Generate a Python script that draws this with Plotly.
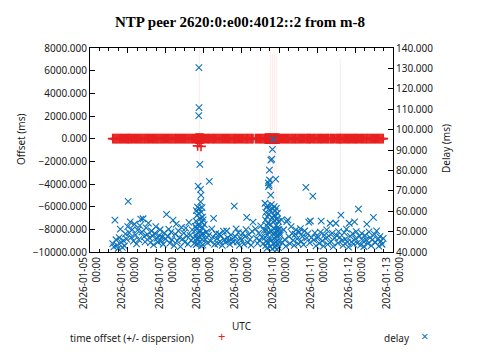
import pandas as pd
import plotly.graph_objects as go

TITLE = "NTP peer 2620:0:e00:4012::2 from m-8"
T0 = pd.Timestamp("2026-01-05 00:00")
RED = "rgb(232,32,32)"
BLUE = "#0b72bb"

# ---- samples: hours after 2026-01-05 00:00 UTC, delay (ms), offset (ms) ----
hours_d0 = [14.4, 15.1, 15.8, 16.5, 17.1, 17.8, 18.5, 19.2, 19.8, 20.5, 21.2, 21.9, 22.5, 23.2, 23.9, 24.2]
delay_d0 = [44.1, 42.5, 55.6, 46.0, 43.2, 41.8, 47.0, 51.2, 44.7, 42.3, 45.6, 43.0, 48.9, 46.3, 52.4, 64.8]
offs_d0 = [2, -1, 3, 0, 1, -2, 4, 2, -1, 0, 3, 1, -3, 2, 0, 5]

hours_d1 = [24.8, 25.5, 26.1, 26.8, 27.5, 28.2, 28.9, 29.5, 30.2, 30.9, 31.6, 32.2, 32.9, 33.6, 34.3, 34.9, 35.6, 36.3,
            37.0, 37.6, 38.3, 39.0, 39.7, 40.3, 41.0, 41.7, 42.4, 43.0, 43.7, 44.4, 45.1, 45.7, 46.4, 47.1, 47.8]
delay_d1 = [49.5, 54.8, 47.2, 51.0, 45.3, 53.6, 48.4, 44.0, 50.7, 46.1, 52.9, 56.1, 49.8, 56.3, 47.5, 45.0, 51.8, 48.6,
            54.2, 46.9, 44.6, 50.3, 47.8, 43.5, 49.1, 52.4, 46.7, 44.9, 48.0, 50.9, 45.6, 47.3, 43.8, 49.4, 46.5]
offs_d1 = [1, -2, 3, 0, 2, -1, 4, 1, -3, 2, 0, 5, 1, -2, 3, 2, -1, 0, 4, 2, -3, 1, 0, 3, -2, 1, 2, -1, 0, 3, 1, -2, 2, 0, 1]

hours_d2 = [48.5, 49.2, 49.9, 50.6, 51.3, 51.9, 52.6, 53.3, 54.0, 54.6, 55.3, 56.0, 56.7, 57.3, 58.0, 58.7, 59.4, 60.0,
            60.7, 61.4, 62.1, 62.7, 63.4, 64.1, 64.8, 65.4, 66.1, 66.8]
delay_d2 = [58.4, 47.6, 51.2, 44.3, 49.7, 46.0, 55.6, 43.1, 48.8, 53.7, 45.5, 50.4, 47.0, 42.6, 52.1, 46.4, 49.3, 44.8,
            51.7, 47.9, 43.9, 54.5, 48.2, 45.7, 50.8, 46.9, 44.2, 52.6]
offs_d2 = [2, 0, -1, 3, 1, -2, 2, 4, 0, -1, 3, 1, 2, -3, 0, 2, 1, -1, 3, 0, 2, -2, 1, 4, 0, -1, 2, 1]

hours_s1 = [67.0, 67.15, 67.3, 67.4, 67.55, 67.7, 67.8, 67.95, 68.1, 68.2, 68.35, 68.5, 68.6, 68.75, 68.9, 69.0, 69.1,
            69.2, 69.3, 69.45, 69.6, 69.7, 69.85, 70.0, 70.1, 70.2, 70.35, 70.5, 70.6, 70.75, 70.9, 71.0, 71.15, 71.3,
            71.4, 71.55, 71.7, 71.85]
delay_s1 = [48.2, 55.1, 43.6, 60.3, 51.4, 46.8, 57.9, 44.1, 62.0, 49.6, 53.2, 72.3, 45.9, 58.8, 106.9, 130.4, 110.8,
            47.3, 61.2, 52.7, 83.0, 44.8, 56.4, 70.7, 64.6, 50.1, 67.9, 59.5, 42.9, 54.6, 48.7, 61.7, 46.2, 57.1,
            51.9, 43.4, 55.8, 49.0]
offs_s1 = [3, -5, 8, 2, -4, 6, 1, -7, 4, -640, 5, -3, 9, 2, -6, 12, -8, 3, 7, -2, 10, -4, 1, 6, -9, 2, -680, 4, -1, 3,
           -5, 2, 6, -3, 1, 4, -2, 0]

hours_d3 = [72.4, 73.1, 73.8, 74.5, 75.1, 75.6, 76.4, 77.2, 77.9, 78.3, 79.0, 79.7, 80.4, 81.1, 81.8, 82.4, 83.1, 83.8,
            84.5, 85.2, 85.9, 86.6, 87.2, 87.9, 88.6, 89.3, 90.0, 90.7, 91.4, 92.0, 92.6, 93.3, 94.0, 94.7, 95.4]
delay_d3 = [53.4, 46.2, 49.8, 44.5, 48.1, 74.6, 45.3, 51.3, 47.4, 56.5, 43.8, 49.0, 46.6, 44.1, 48.7, 45.2, 47.9, 43.3,
            50.2, 46.0, 44.7, 50.3, 47.1, 45.5, 43.7, 48.4, 46.3, 44.9, 62.5, 47.6, 51.3, 45.0, 49.5, 43.2, 46.8]
offs_d3 = [1, -2, 0, 3, 2, -1, 1, 4, -2, 0, 2, 1, -1, 3, 0, -2, 2, 1, 0, -1, 3, 2, -2, 1, 0, 4, -1, 2, 1, -3, 0, 2, 1, -1, 3]

hours_d4 = [96.1, 96.8, 97.5, 98.2, 98.9, 99.3, 100.0, 100.7, 101.4, 102.1, 102.7, 103.3, 104.8, 105.5, 106.2, 106.9,
            107.6, 108.2, 108.9, 109.6, 110.3]
delay_d4 = [45.8, 49.3, 43.9, 47.7, 51.0, 57.0, 44.6, 48.5, 46.2, 43.4, 50.1, 54.6, 51.3, 46.7, 44.2, 49.2, 45.6, 52.8,
            47.3, 44.0, 50.6]
offs_d4 = [2, 0, -1, 3, 1, -2, 2, 0, 1, -1, 3, 2, 0, -2, 1, 2, -1, 0, 3, 1, -2]

hours_s2 = [110.9, 111.0, 111.2, 111.3, 111.4, 111.6, 111.7, 111.8, 112.0, 112.1,
            112.3, 112.4, 112.5, 112.7, 112.8, 113.0, 113.1, 113.2, 113.4, 113.5,
            113.7, 113.8, 113.9, 114.1, 114.2, 114.4, 114.5, 114.6, 114.8, 114.9,
            115.1, 115.2, 115.3, 115.5, 115.6, 115.8, 115.9, 116.0, 116.2, 116.3,
            116.5, 116.6, 116.7, 116.9, 117.0, 117.2, 117.3, 117.4, 117.6, 117.7,
            117.9, 118.0, 118.1, 118.3, 118.4, 118.6, 118.7, 118.8, 119.0, 119.1,
            119.3, 119.4, 119.5, 119.7, 119.8, 120.0]
delay_s2 = [63.9, 47.2, 55.8, 43.1, 59.4, 50.6, 45.3, 61.8, 52.9, 41.8,
            57.3, 48.4, 62.7, 44.6, 54.1, 73.9, 72.0, 49.9, 58.6, 72.8,
            80.1, 75.3, 46.1, 60.5, 42.7, 53.5, 67.9, 85.0, 50.2, 63.2,
            45.8, 85.5, 56.7, 41.5, 90.3, 61.1, 48.9, 54.8, 95.3, 44.0,
            58.0, 51.4, 62.2, 46.7, 55.3, 42.4, 60.0, 49.3, 57.6, 75.7,
            44.9, 53.0, 61.4, 47.8, 41.2, 56.2, 50.7, 59.0, 43.6, 52.2,
            48.0, 55.0, 42.1, 51.0, 45.1, 49.6]
offs_s2 = [4, -3, 6, 1, -5, 2, 8, -2, 3, -6,
           5, 0, -4, 7, 2, -1, 9, -3, 4, 1,
           -7, 3, 6, -2, 0, 5, -4, 2, 8, -1,
           3, -5, 1, 6, -3, 2, 4, -6, 0, 7,
           -2, 3, 1, -4, 5, 2, -1, 6, -3, 0,
           4, -2, 3, 1, -5, 2, 0, 4, -1, 3,
           -2, 1, 5, -3, 2, 0]

hours_d5 = [120.6, 121.3, 122.0, 122.7, 123.3, 124.0, 124.7, 125.3, 126.0, 126.7,
            127.4, 128.1, 128.7, 129.4, 130.1, 130.5, 131.2, 131.9, 132.6, 133.3,
            133.9, 134.6, 135.3, 136.0, 136.8, 137.4, 138.0, 138.6, 139.2, 139.6,
            140.3, 141.2, 141.8, 142.5, 143.2, 143.9]
delay_d5 = [48.3, 55.7, 44.6, 50.9, 46.1, 42.8, 54.9, 55.7, 47.5, 44.1,
            52.4, 49.0, 45.8, 43.3, 48.7, 50.8, 46.4, 44.0, 49.8, 51.5,
            45.2, 47.6, 43.6, 50.3, 71.7, 46.9, 48.9, 54.6, 44.5, 55.2,
            47.1, 67.4, 45.9, 49.4, 43.0, 46.8]
offs_d5 = [2, -1, 0, 3, 1, -2, 2, 4, 0, -1, 3, 1, -2, 0, 2, 1, -1, 3, 0, 2,
           -2, 1, 0, 4, -1, 2, 1, -3, 0, 2, 1, -1, 3, 0, 2, -2]

hours_d6 = [144.6, 145.3, 146.0, 146.5, 147.2, 147.9, 148.6, 149.3, 150.0, 150.6,
            151.3, 152.2, 152.8, 153.5, 154.2, 154.9, 155.8, 156.4, 157.1, 157.5,
            158.3, 159.0, 159.7, 160.4, 161.1, 161.8, 162.5, 163.1, 163.8, 164.3,
            165.0, 165.7, 166.4, 167.0, 167.6]
delay_d6 = [47.4, 44.2, 49.7, 55.1, 45.5, 42.9, 48.3, 46.6, 50.8, 43.7,
            47.9, 54.1, 45.1, 49.2, 42.6, 46.9, 54.1, 48.0, 44.4, 50.0,
            47.2, 58.1, 45.7, 43.2, 49.5, 46.3, 51.2, 44.8, 42.4, 54.1,
            47.7, 45.0, 49.0, 43.9, 54.8]
offs_d6 = [1, 0, -2, 3, 1, 2, -1, 0, 4, 1, -2, 2, 0, 3, -1, 1, 2, 0, -3, 1,
           2, 0, -1, 3, 1, -2, 2, 0, 1, 4, -1, 2, 0, 1, -2]

hours_d7 = [168.3, 168.7, 169.4, 170.1, 170.8, 171.5, 172.2, 172.8, 173.5, 174.2,
            174.9, 175.4, 176.1, 176.8, 177.5, 178.2, 178.9, 179.6, 180.3, 180.9,
            181.6, 182.3, 183.0, 183.7, 184.4, 185.1, 185.8]
delay_d7 = [46.5, 50.0, 44.3, 61.0, 47.8, 43.4, 49.1, 45.6, 42.7, 48.2,
            46.0, 53.7, 44.1, 49.9, 47.0, 43.1, 45.9, 57.0, 48.6, 44.7,
            50.4, 46.2, 42.9, 47.5, 45.3, 43.8, 46.7]
offs_d7 = [0, 2, -1, 3, 1, 0, -2, 2, 1, -1, 3, 0, 2, -2, 1, 0, 4, -1, 2, 1, 0, -2, 3, 1, -1, 2, 0]

# samples with a large dispersion (drawn as error bars)
disp_hours = [69.3, 114.3, 115.6, 116.8, 118.1, 158.6]
disp_offset = [-320, 15, -10, 8, 4, 2]
disp_ms = [9600, 7600, 7500, 7700, 7400, 7000]

# axis ticks
day_ticks = ["2026-01-05", "2026-01-06", "2026-01-07", "2026-01-08", "2026-01-09",
             "2026-01-10", "2026-01-11", "2026-01-12", "2026-01-13"]
day_labels = [d + "<br>00:00" for d in day_ticks]

hours = (hours_d0 + hours_d1 + hours_d2 + hours_s1 + hours_d3 + hours_d4 + hours_s2 +
         hours_d5 + hours_d6 + hours_d7)
delays = (delay_d0 + delay_d1 + delay_d2 + delay_s1 + delay_d3 + delay_d4 + delay_s2 +
          delay_d5 + delay_d6 + delay_d7)
offsets = (offs_d0 + offs_d1 + offs_d2 + offs_s1 + offs_d3 + offs_d4 + offs_s2 +
           offs_d5 + offs_d6 + offs_d7)
assert len(hours) == len(delays) == len(offsets), (len(hours), len(delays), len(offsets))

times = T0 + pd.to_timedelta(hours, unit="h")
disp_times = T0 + pd.to_timedelta(disp_hours, unit="h")

red_marker = dict(symbol="cross-thin", size=7, line=dict(color=RED, width=1.6), color=RED)

fig = go.Figure()
fig.add_trace(go.Scatter(
    x=disp_times, y=disp_offset, mode="markers", marker=red_marker,
    error_y=dict(type="data", array=disp_ms, visible=True, color="rgba(235,60,60,0.09)",
                 thickness=1.2, width=0),
    showlegend=False, hoverinfo="skip"))
fig.add_trace(go.Scatter(x=times, y=offsets, mode="markers", marker=red_marker,
                         name="time offset (+/- dispersion)", showlegend=False))
fig.add_trace(go.Scatter(x=times, y=delays, mode="markers", yaxis="y2",
                         marker=dict(symbol="x-thin", size=6.5, color=BLUE,
                                     line=dict(color=BLUE, width=1.1)),
                         name="delay", showlegend=False))

L, R, T, B = 90, 87, 48, 108
W, H = 480, 360
pw, ph = W - L - R, H - T - B


def px(x):
    return (x - L) / pw


def py(y):
    return (H - B - y) / ph


axis_common = dict(showgrid=False, zeroline=False, showline=True, linecolor="black", linewidth=1,
                   ticks="inside", ticklen=5, tickcolor="black", tickwidth=1,
                   tickfont=dict(family="Noto Sans", size=10, color="#1a1a1a"))

fig.update_layout(
    width=W, height=H,
    margin=dict(l=L, r=R, t=T, b=B),
    paper_bgcolor="white", plot_bgcolor="white",
    font=dict(family="Noto Sans", size=10, color="#1a1a1a"),
    title=dict(text="<b>" + TITLE + "</b>", x=0.5, xanchor="center", xref="container",
               y=1 - 22 / H, yanchor="middle", yref="container",
               font=dict(family="Liberation Serif", size=15, color="black")),
    showlegend=False,
    xaxis=dict(type="date", range=[day_ticks[0], day_ticks[-1]], tickmode="array",
               tickvals=day_ticks, ticktext=day_labels, tickangle=-90, mirror="ticks",
               minor=dict(dtick=6 * 3600 * 1000, tick0=day_ticks[0], ticks="inside", ticklen=3,
                          tickcolor="black", showgrid=False),
               **axis_common),
    yaxis=dict(range=[-10000, 8000], tick0=0, dtick=2000, tickformat=".3f", **axis_common),
    yaxis2=dict(range=[40, 140], tick0=40, dtick=10, tickformat=".3f", overlaying="y",
                side="right", **axis_common),
)

ann_font = dict(family="Noto Sans", size=10, color="#1a1a1a")
fig.add_annotation(text="Offset (ms)", x=px(12), y=py(140), xref="paper", yref="paper",
                   textangle=-90, showarrow=False, font=ann_font)
fig.add_annotation(text="Delay (ms)", x=px(455), y=py(149), xref="paper", yref="paper",
                   textangle=-90, showarrow=False, font=ann_font)
fig.add_annotation(text="UTC", x=px(242), y=py(335), xref="paper", yref="paper",
                   showarrow=False, font=ann_font)
fig.add_annotation(text="time offset (+/- dispersion)", x=px(68), y=py(347), xref="paper",
                   yref="paper", xanchor="left", showarrow=False, font=ann_font)
fig.add_annotation(text="+", x=px(221), y=py(347), xref="paper", yref="paper",
                   showarrow=False, font=dict(family="Noto Sans", size=13, color=RED))
fig.add_annotation(text="delay", x=px(382), y=py(347), xref="paper", yref="paper",
                   xanchor="left", showarrow=False, font=ann_font)
fig.add_annotation(text="×", x=px(430), y=py(347), xref="paper", yref="paper",
                   showarrow=False, font=dict(family="Noto Sans", size=13, color=BLUE))

fig.write_html("out.html", config={"displayModeBar": False},
               post_script="document.body.style.margin='0px';")
